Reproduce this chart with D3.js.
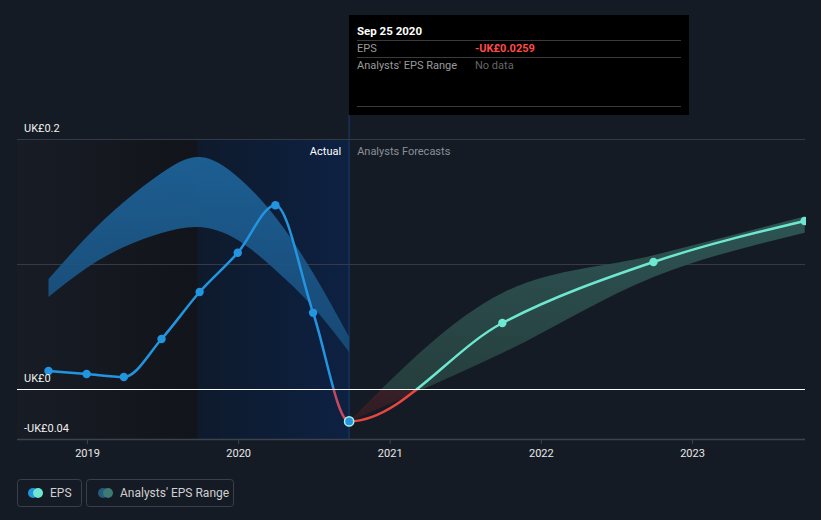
<!DOCTYPE html>
<html><head><meta charset="utf-8">
<script src="https://cdn.jsdelivr.net/npm/d3@7"></script>
<style>
html,body{margin:0;padding:0;background:#151b24;}
svg{display:block;font-family:Roboto,"Noto Sans",sans-serif;}
</style></head>
<body>
<svg id="c" width="821" height="520"></svg>
<script>
// ---- data ----
const actualDates = ["2018-09-30","2018-12-31","2019-03-31","2019-06-30","2019-09-30","2019-12-31","2020-03-31","2020-06-30","2020-09-25"];
const actualEPS   = [0.0144, 0.0120, 0.0096, 0.0400, 0.0776, 0.1090, 0.1470, 0.0610, -0.0259];
const pastRangeLow  = [0.0736, 0.0968, 0.1136, 0.1248, 0.1296, 0.1192, 0.0952, 0.0656, 0.0296];
const pastRangeHigh = [0.0880, 0.1216, 0.1496, 0.1728, 0.1856, 0.1696, 0.1376, 0.0928, 0.0416];
const forecastDates = ["2020-09-25","2021-09-30","2022-09-30","2023-09-30"];
const forecastEPS   = [-0.0259, 0.0528, 0.1016, 0.1344];
const forecastLow   = [-0.0259, 0.0288, 0.0896, 0.1250];
const forecastHigh  = [-0.0259, 0.0768, 0.1070, 0.1380];
const yTickValues = [-0.04, 0, 0.2];
const yTickLabels = ["-UK£0.04", "UK£0", "UK£0.2"];
const xTickYears = [2019, 2020, 2021, 2022, 2023];
const tooltipDate = "Sep 25 2020";
const tooltipEPS = "-UK£0.0259";
const tooltipRange = "No data";
const highlightStart = "2019-09-25";
const highlightEnd = "2020-09-25";

// ---- scales ----
const parse = d3.utcParse("%Y-%m-%d");
const plotL = 17, plotR = 805, plotT = 139, plotB = 439;
const x = d3.scaleUtc().domain([new Date(Date.UTC(2019,0,1)), new Date(Date.UTC(2023,0,1))]).range([87, 692]);
const y = d3.scaleLinear().domain([-0.04, 0.2]).range([plotB, plotT]);

const svg = d3.select("#c");
const defs = svg.append("defs");

svg.append("rect").attr("width",821).attr("height",520).attr("fill","#151b24");

// background regions
const gPast = defs.append("linearGradient").attr("id","gPast").attr("x1",0).attr("x2",1).attr("y1",0).attr("y2",0);
gPast.append("stop").attr("offset","0%").attr("stop-color","#181c25");
gPast.append("stop").attr("offset","100%").attr("stop-color","#11141a");
const gHi = defs.append("linearGradient").attr("id","gHi").attr("x1",0).attr("x2",1).attr("y1",0).attr("y2",0);
gHi.append("stop").attr("offset","0%").attr("stop-color","#0e1a2c");
gHi.append("stop").attr("offset","100%").attr("stop-color","#0d2142");

const hs = x(parse(highlightStart)), he = x(parse(highlightEnd));
svg.append("rect").attr("x",plotL).attr("y",plotT).attr("width",hs-plotL).attr("height",plotB-plotT).attr("fill","url(#gPast)");
svg.append("rect").attr("x",hs).attr("y",plotT).attr("width",he-hs).attr("height",plotB-plotT).attr("fill","url(#gHi)");
svg.append("line").attr("x1",he).attr("x2",he).attr("y1",115).attr("y2",plotB).attr("stroke","#16325a").attr("stroke-width",1.5);

// gridlines
[0.2, 0.1].forEach(v=>{
  svg.append("line").attr("x1",plotL).attr("x2",plotR).attr("y1",Math.round(y(v))+0.5).attr("y2",Math.round(y(v))+0.5).attr("stroke","#353b46").attr("stroke-width",1);
});

// clips
defs.append("clipPath").attr("id","clip").append("rect").attr("x",plotL).attr("y",0).attr("width",plotR-plotL+1).attr("height",plotB);
defs.append("clipPath").attr("id","clipA").append("rect").attr("x",plotL).attr("y",0).attr("width",he-plotL).attr("height",plotB);
defs.append("clipPath").attr("id","clipF").append("rect").attr("x",he).attr("y",0).attr("width",plotR-he+1).attr("height",plotB);

const g = svg.append("g").attr("clip-path","url(#clip)");

// past range band
const gBand = defs.append("linearGradient").attr("id","gBand").attr("gradientUnits","userSpaceOnUse").attr("x1",0).attr("x2",0).attr("y1",y(0.19)).attr("y2",y(0.02));
gBand.append("stop").attr("offset","0%").attr("stop-color","#1e659c");
gBand.append("stop").attr("offset","100%").attr("stop-color","#184a76");
const pastBand = actualDates.map((d,i)=>({d:parse(d), lo:pastRangeLow[i], hi:pastRangeHigh[i]}));
g.append("path").datum(pastBand)
  .attr("d", d3.area().curve(d3.curveNatural).x(p=>x(p.d)).y0(p=>y(p.lo)).y1(p=>y(p.hi)))
  .attr("fill","url(#gBand)").attr("opacity",0.92);

// forecast band
const zeroOff = (y(0)-y(0.14))/(y(-0.03)-y(0.14));
const gFB = defs.append("linearGradient").attr("id","gFB").attr("gradientUnits","userSpaceOnUse").attr("x1",0).attr("x2",0).attr("y1",y(0.14)).attr("y2",y(-0.03));
gFB.append("stop").attr("offset","0%").attr("stop-color","#2f5756");
gFB.append("stop").attr("offset",zeroOff).attr("stop-color","#26403f");
gFB.append("stop").attr("offset",zeroOff).attr("stop-color","#3a2027");
gFB.append("stop").attr("offset","100%").attr("stop-color","#2e1b22");
const fBand = forecastDates.map((d,i)=>({d:parse(d), lo:forecastLow[i], hi:forecastHigh[i]}));
g.append("path").datum(fBand)
  .attr("d", d3.area().curve(d3.curveMonotoneX).x(p=>x(p.d)).y0(p=>y(p.lo)).y1(p=>y(p.hi)))
  .attr("fill","url(#gFB)").attr("opacity",0.95);

// zero line
svg.append("line").attr("x1",plotL).attr("x2",plotR).attr("y1",Math.round(y(0))+0.5).attr("y2",Math.round(y(0))+0.5).attr("stroke","#ffffff").attr("stroke-width",1);

// combined series (actual + forecast) for continuous curve
const act = actualDates.map((d,i)=>({d:parse(d), v:actualEPS[i]}));
const fc = forecastDates.map((d,i)=>({d:parse(d), v:forecastEPS[i]}));
const all = act.concat(fc.slice(1));
const lineGen = d3.line().curve(d3.curveMonotoneX).x(p=>x(p.d)).y(p=>y(p.v));

// actual line gradient (blue above zero, red below)
const zA = (y(0)-y(0.15))/(y(-0.03)-y(0.15));
const gAct = defs.append("linearGradient").attr("id","gAct").attr("gradientUnits","userSpaceOnUse").attr("x1",0).attr("x2",0).attr("y1",y(0.15)).attr("y2",y(-0.03));
gAct.append("stop").attr("offset","0%").attr("stop-color","#2394df");
gAct.append("stop").attr("offset",zA-0.01).attr("stop-color","#2394df");
gAct.append("stop").attr("offset",zA+0.01).attr("stop-color","#c0475f");
gAct.append("stop").attr("offset","100%").attr("stop-color","#d9485a");
g.append("g").attr("clip-path","url(#clipA)").append("path").datum(all)
  .attr("d", lineGen).attr("fill","none").attr("stroke","url(#gAct)").attr("stroke-width",2.5);

// forecast line gradient (red below zero, teal above)
const zF = (y(0)-y(0.14))/(y(-0.03)-y(0.14));
const gFc = defs.append("linearGradient").attr("id","gFc").attr("gradientUnits","userSpaceOnUse").attr("x1",0).attr("x2",0).attr("y1",y(0.14)).attr("y2",y(-0.03));
gFc.append("stop").attr("offset","0%").attr("stop-color","#6ee7d0");
gFc.append("stop").attr("offset",zF).attr("stop-color","#6ee7d0");
gFc.append("stop").attr("offset",zF).attr("stop-color","#e8473f");
gFc.append("stop").attr("offset","100%").attr("stop-color","#e8473f");
g.append("g").attr("clip-path","url(#clipF)").append("path").datum(all)
  .attr("d", lineGen).attr("fill","none").attr("stroke","url(#gFc)").attr("stroke-width",2.5);

// markers
g.selectAll("circle.a").data(act.slice(0,-1)).enter().append("circle")
  .attr("cx",p=>x(p.d)).attr("cy",p=>y(p.v)).attr("r",4.2).attr("fill","#2394df");
g.selectAll("circle.f").data(fc.slice(1)).enter().append("circle")
  .attr("cx",p=>x(p.d)).attr("cy",p=>y(p.v)).attr("r",4.2).attr("fill","#6ee7d0");
const last = act[act.length-1];
g.append("circle").attr("cx",x(last.d)).attr("cy",y(last.v)).attr("r",4.6)
  .attr("fill","#2394df").attr("stroke","#a8f0e2").attr("stroke-width",1.5);

// x axis
svg.append("line").attr("x1",plotL).attr("x2",plotR).attr("y1",plotB+0.5).attr("y2",plotB+0.5).attr("stroke","#3d434d").attr("stroke-width",1.5);
const xAxis = d3.axisBottom(x).tickValues(xTickYears.map(yr=>new Date(Date.UTC(yr,0,1)))).tickFormat(d3.utcFormat("%Y")).tickSize(5).tickPadding(5);
const xa = svg.append("g").attr("transform",`translate(0,${plotB})`).call(xAxis);
xa.select(".domain").remove();
xa.selectAll(".tick line").attr("stroke","#3d434d");
xa.selectAll(".tick text").attr("fill","#e8e8e8").attr("font-size",11).attr("font-family","Roboto, sans-serif");

// y labels
yTickValues.forEach((v,i)=>{
  svg.append("text").attr("x",24).attr("y",y(v)-7).attr("fill","#f0f0f0").attr("font-size",11).text(yTickLabels[i]);
});

// Actual / Analysts Forecasts labels
svg.append("text").attr("x",he-8).attr("y",155).attr("text-anchor","end").attr("fill","#ffffff").attr("font-size",11).text("Actual");
svg.append("text").attr("x",he+8).attr("y",155).attr("fill","#8a8f98").attr("font-size",11).text("Analysts Forecasts");

// tooltip
const tt = svg.append("g");
tt.append("rect").attr("x",349).attr("y",15).attr("width",340).attr("height",100).attr("fill","#000000");
tt.append("text").attr("x",357).attr("y",35).attr("fill","#ffffff").attr("font-size",11.5).attr("font-weight","bold").text(tooltipDate);
[40.5, 57.5, 106.5].forEach(yy=>tt.append("line").attr("x1",357).attr("x2",681).attr("y1",yy).attr("y2",yy).attr("stroke","#3a3a3a"));
tt.append("text").attr("x",357).attr("y",52).attr("fill","#9a9a9a").attr("font-size",11).text("EPS");
tt.append("text").attr("x",475).attr("y",52).attr("fill","#ff4a4a").attr("font-size",11).attr("font-weight","bold").text(tooltipEPS);
tt.append("text").attr("x",357).attr("y",69).attr("fill","#9a9a9a").attr("font-size",11).text("Analysts' EPS Range");
tt.append("text").attr("x",475).attr("y",69).attr("fill","#666666").attr("font-size",11).text(tooltipRange);

// legend
const lg = svg.append("g");
lg.append("rect").attr("x",17.5).attr("y",479.5).attr("width",64).attr("height",27).attr("rx",3).attr("fill","none").attr("stroke","#3a404b");
lg.append("circle").attr("cx",33).attr("cy",493).attr("r",5).attr("fill","#2394df");
lg.append("circle").attr("cx",38).attr("cy",493).attr("r",5).attr("fill","#6ee7d0");
lg.append("text").attr("x",50).attr("y",497).attr("fill","#d0d0d0").attr("font-size",12).text("EPS");
lg.append("rect").attr("x",86.5).attr("y",479.5).attr("width",147).attr("height",27).attr("rx",3).attr("fill","none").attr("stroke","#3a404b");
lg.append("circle").attr("cx",103).attr("cy",493).attr("r",5).attr("fill","#245a80");
lg.append("circle").attr("cx",108).attr("cy",493).attr("r",5).attr("fill","#3c7a73");
lg.append("text").attr("x",120).attr("y",497).attr("fill","#d0d0d0").attr("font-size",12).text("Analysts' EPS Range");
</script>
</body></html>
